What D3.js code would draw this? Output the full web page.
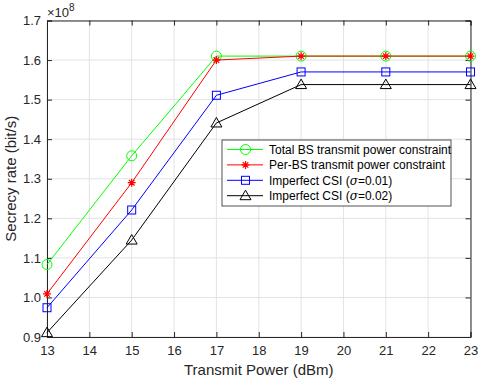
<!DOCTYPE html>
<html>
<head>
<meta charset="utf-8">
<script src="https://cdn.jsdelivr.net/npm/d3@7"></script>
<style>
  body { margin: 0; background: #fff; }
  text { font-family: "Liberation Sans", Arial, sans-serif; }
</style>
</head>
<body>
<div id="chart"></div>
<script>
// chart data (secrecy rate in units of 1e8 bit/s)
var powers = [13, 15, 17, 19, 21, 23];
var totalBS = [1.083, 1.358, 1.610, 1.610, 1.610, 1.610];
var perBS = [1.009, 1.290, 1.600, 1.610, 1.610, 1.610];
var csi001 = [0.974, 1.221, 1.511, 1.570, 1.570, 1.570];
var csi002 = [0.911, 1.145, 1.441, 1.538, 1.538, 1.538];
var xTicks = [13, 14, 15, 16, 17, 18, 19, 20, 21, 22, 23];
var yTicks = [0.9, 1.0, 1.1, 1.2, 1.3, 1.4, 1.5, 1.6, 1.7];

var series = [
    { name: "Total BS transmit power constraint", values: totalBS, color: "#00ff00", marker: "circle" },
    { name: "Per-BS transmit power constraint", values: perBS, color: "#ff0000", marker: "star" },
    { name: "Imperfect CSI (σ=0.01)", values: csi001, color: "#0000ff", marker: "square" },
    { name: "Imperfect CSI (σ=0.02)", values: csi002, color: "#000000", marker: "triangle" }
];

var svgWidth = 490, svgHeight = 382;
var margin = { top: 20.5, right: 20, bottom: 45, left: 47 };
var width = 470.5 - margin.left;
var height = 337 - margin.top;

var svg = d3.select("#chart").append("svg")
    .attr("width", svgWidth)
    .attr("height", svgHeight);

var g = svg.append("g")
    .attr("transform", `translate(${margin.left}, ${margin.top})`);

var x = d3.scaleLinear().domain([13, 23]).range([0, width]);
var y = d3.scaleLinear().domain([0.9, 1.7]).range([height, 0]);

// grid
g.append("g").selectAll("line").data(xTicks).enter().append("line")
    .attr("x1", d => x(d)).attr("x2", d => x(d))
    .attr("y1", 0).attr("y2", height)
    .attr("stroke", "#e3e3e3").attr("stroke-width", 1);
g.append("g").selectAll("line").data(yTicks).enter().append("line")
    .attr("y1", d => y(d)).attr("y2", d => y(d))
    .attr("x1", 0).attr("x2", width)
    .attr("stroke", "#e3e3e3").attr("stroke-width", 1);

// axes (ticks point inward, matlab style)
var bottomAxis = d3.axisBottom(x).tickValues(xTicks).tickSize(-5).tickPadding(9).tickFormat(d3.format("d"));
var leftAxis = d3.axisLeft(y).tickValues(yTicks).tickSize(-5).tickPadding(6).tickFormat(d3.format(".1f"));
var topAxis = d3.axisTop(x).tickValues(xTicks).tickSize(-5).tickFormat("");
var rightAxis = d3.axisRight(y).tickValues(yTicks).tickSize(-5).tickFormat("");

function styleAxis(sel) {
    sel.select(".domain").attr("stroke", "#262626");
    sel.selectAll(".tick line").attr("stroke", "#262626");
    sel.selectAll(".tick text").attr("fill", "#262626").style("font-size", "13px");
}

g.append("g").attr("transform", `translate(0, ${height})`).call(bottomAxis).call(styleAxis);
g.append("g").call(leftAxis).call(styleAxis);
g.append("g").call(topAxis).call(styleAxis);
g.append("g").attr("transform", `translate(${width}, 0)`).call(rightAxis).call(styleAxis);

// exponent label
var expText = svg.append("text")
    .attr("x", 47)
    .attr("y", 17)
    .attr("fill", "#262626")
    .style("font-size", "13px");
expText.append("tspan").text("×10");
expText.append("tspan").attr("dy", -6).style("font-size", "10px").text("8");

// markers
function drawMarker(sel, type, color) {
    if (type === "circle") {
        sel.append("circle").attr("r", 5).attr("fill", "none").attr("stroke", color);
    } else if (type === "square") {
        sel.append("rect").attr("x", -4).attr("y", -4).attr("width", 8).attr("height", 8)
            .attr("fill", "none").attr("stroke", color);
    } else if (type === "triangle") {
        sel.append("path").attr("d", "M0,-5.5L5.5,4L-5.5,4Z").attr("fill", "none").attr("stroke", color);
    } else if (type === "star") {
        var s = 4;
        sel.append("path")
            .attr("d", `M${-s},0L${s},0M0,${-s}L0,${s}M${-s * 0.7},${-s * 0.7}L${s * 0.7},${s * 0.7}M${-s * 0.7},${s * 0.7}L${s * 0.7},${-s * 0.7}`)
            .attr("stroke", color).attr("stroke-width", 1.2).attr("fill", "none");
    }
}

var line = d3.line().x(d => x(d[0])).y(d => y(d[1]));

series.forEach(function(s) {
    var pts = powers.map((p, i) => [p, s.values[i]]);
    g.append("path")
        .datum(pts)
        .attr("d", line)
        .attr("fill", "none")
        .attr("stroke", s.color)
        .attr("stroke-width", 1);
    g.selectAll(null).data(pts).enter().append("g")
        .attr("transform", d => `translate(${x(d[0])}, ${y(d[1])})`)
        .each(function() { drawMarker(d3.select(this), s.marker, s.color); });
});

// axis labels
svg.append("text")
    .attr("transform", `translate(16, ${margin.top + height / 2}) rotate(-90)`)
    .style("text-anchor", "middle")
    .attr("fill", "#262626")
    .style("font-size", "15px")
    .text("Secrecy rate (bit/s)");

svg.append("text")
    .attr("x", margin.left + width / 2)
    .attr("y", 375)
    .style("text-anchor", "middle")
    .attr("fill", "#262626")
    .style("font-size", "15px")
    .text("Transmit Power (dBm)");

// legend
var legend = svg.append("g").attr("transform", "translate(222, 140)");
legend.append("rect")
    .attr("width", 229).attr("height", 66)
    .attr("fill", "#fff").attr("stroke", "#262626").attr("stroke-width", 0.8);

series.forEach(function(s, i) {
    var ly = 9.5 + i * 15.4;
    var row = legend.append("g").attr("transform", `translate(0, ${ly})`);
    row.append("line").attr("x1", 5).attr("x2", 41).attr("y1", 0).attr("y2", 0)
        .attr("stroke", s.color).attr("stroke-width", 1);
    var m = row.append("g").attr("transform", "translate(23.5, 0)");
    drawMarker(m, s.marker, s.color);
    var t = row.append("text").attr("x", 47).attr("y", 4.5).attr("fill", "#000").style("font-size", "12px");
    if (s.name.indexOf("σ") >= 0) {
        var parts = s.name.split("σ");
        t.append("tspan").text(parts[0]);
        t.append("tspan").style("font-style", "italic").style("font-family", "'DejaVu Serif', serif").text("σ");
        t.append("tspan").text(parts[1]);
    } else {
        t.text(s.name);
    }
});
</script>
</body>
</html>
